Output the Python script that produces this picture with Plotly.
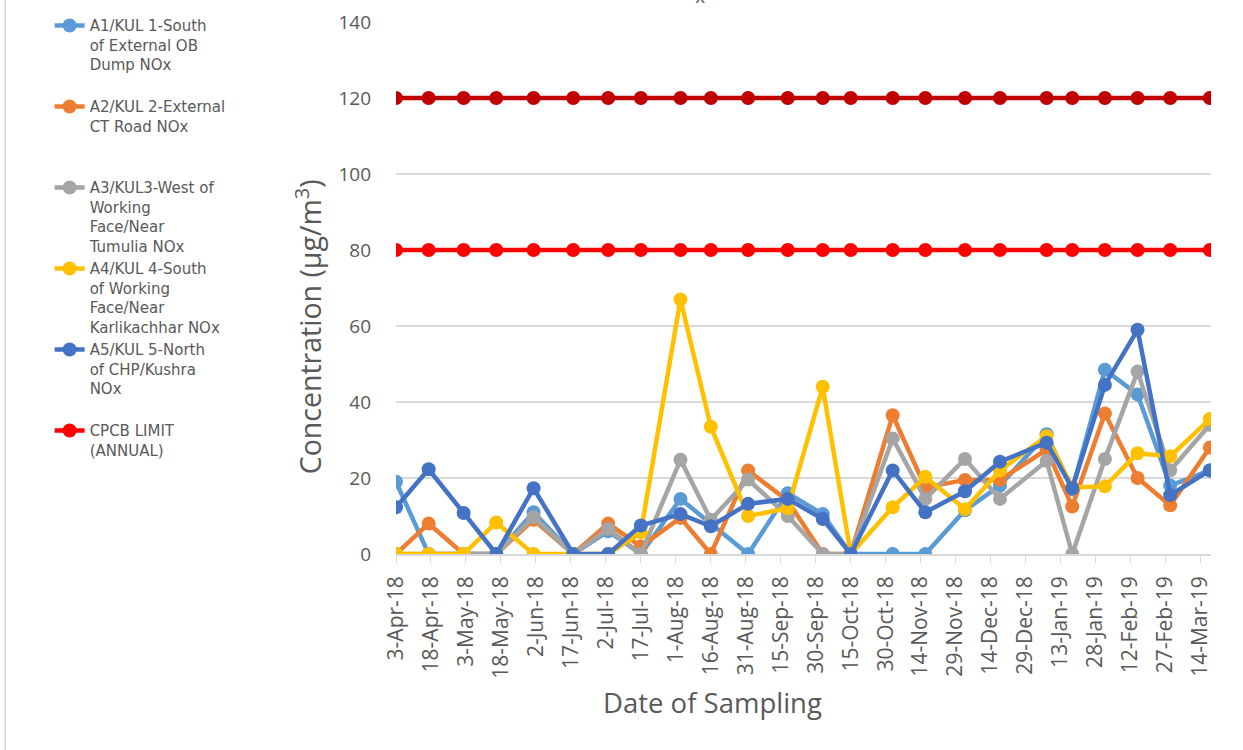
import plotly.graph_objects as go

# sampling dates
dates = ["2018-04-03", "2018-04-17", "2018-05-02", "2018-05-16", "2018-06-01", "2018-06-18",
         "2018-07-03", "2018-07-17", "2018-08-03", "2018-08-16", "2018-09-01", "2018-09-18",
         "2018-10-03", "2018-10-15", "2018-11-02", "2018-11-16", "2018-12-03", "2018-12-18",
         "2019-01-07", "2019-01-18", "2019-02-01", "2019-02-15", "2019-03-01", "2019-03-18"]

a1 = [19, 0, 0, 0, 11, 0, 6, 0, 14.5, 8, 0, 16, 10.5, 0, 0, 0, 11.5, 18, 31.5, 17, 48.5, 42, 18, 22]
a2 = [0, 8, 0, 0, 9, 0, 8, 2, 9.5, 0, 22, 14, 0, 0, 36.5, 17.5, 19.5, 19.5, 27.5, 12.5, 37, 20, 12.8, 28]
a3 = [0, 0, 0, 0, 9.7, 0, 6.6, 0, 24.8, 9, 19.6, 10, 0, 0, 30.4, 14.5, 25, 14.5, 24.5, 0, 25, 48, 22, 34]
a4 = [0, 0, 0, 8.3, 0, 0, 0, 5.7, 67, 33.5, 10, 12, 44, 0, 12.3, 20.3, 11.8, 22, 31, 17.5, 17.8, 26.5, 25.7, 35.5]
a5 = [12.3, 22.3, 10.8, 0, 17.3, 0, 0, 7.5, 10.5, 7.3, 13.2, 14.5, 9.2, 0, 22, 11, 16.5, 24.3, 29.3, 17.3, 44.5, 59, 15.5, 22]
limit_annual = [80] * len(dates)
limit_24h = [120] * len(dates)

names = [
    "A1/KUL 1-South<br>of External OB<br>Dump NOx<br> ",
    "A2/KUL 2-External<br>CT Road NOx<br> <br> ",
    "A3/KUL3-West of<br>Working<br>Face/Near<br>Tumulia NOx",
    "A4/KUL 4-South<br>of Working<br>Face/Near<br>Karlikachhar NOx",
    "A5/KUL 5-North<br>of CHP/Kushra<br>NOx<br> ",
    "CPCB LIMIT<br>(ANNUAL)",
]
colors = ["#5B9BD5", "#ED7D31", "#A5A5A5", "#FFC000", "#4472C4", "#FF0000"]
series = [a1, a2, a3, a4, a5, limit_annual]

fig = go.Figure()

# 24 hourly limit line, not listed in the legend
fig.add_trace(go.Scatter(
    x=dates, y=limit_24h, mode="lines+markers",
    line=dict(color="#C00000", width=4.5),
    marker=dict(size=14, color="#C00000"),
    name="CPCB LIMIT (24 HOURLY)", showlegend=False
))

for name, vals, col in zip(names, series, colors):
    fig.add_trace(go.Scatter(
        x=dates, y=vals, mode="lines+markers", name=name,
        line=dict(color=col, width=4.5),
        marker=dict(size=14, color=col)
    ))

grey = "#595959"
fig.update_layout(
    width=1243, height=750,
    paper_bgcolor="white", plot_bgcolor="white",
    margin=dict(l=396, r=32, t=22, b=196, autoexpand=False),
    font=dict(family="Open Sans", color=grey),
    legend=dict(
        x=-0.425, y=1.024, xanchor="left", yanchor="top",
        font=dict(family="DejaVu Sans", size=15, color=grey),
        valign="top", tracegroupgap=0, traceorder="normal", maxheight=740,
    ),
    annotations=[
        dict(text="Date of Sampling", xref="paper", yref="paper", x=0.388, y=-0.28,
             xanchor="center", yanchor="middle", showarrow=False,
             font=dict(family="Open Sans", size=27.5, color=grey)),
        dict(text="Concentration (µg/m<sup>3</sup>)", xref="paper", yref="paper",
             x=-0.108, y=0.428, xanchor="center", yanchor="middle", textangle=-90,
             showarrow=False, font=dict(family="Open Sans", size=28.5, color=grey)),
        dict(text="NO<sub>x</sub>", xref="paper", yref="paper", x=0.381, y=1.021,
             xanchor="right", yanchor="bottom", showarrow=False,
             font=dict(family="Open Sans", size=27, color=grey)),
    ],
    shapes=[
        dict(type="line", xref="paper", yref="paper", x0=-0.4795, x1=-0.4795, y0=-0.5, y1=1.2,
             line=dict(color="#D9D9D9", width=1.5)),
    ],
)

fig.update_xaxes(
    type="date", range=["2018-04-03", "2019-03-18 12:00"],
    tick0="2018-04-03", dtick=15 * 86400000, tickformat="%-d-%b-%y",
    tickangle=-90, ticks="outside", ticklen=7, tickcolor="#D9D9D9",
    showline=True, linecolor="#D9D9D9", linewidth=1.5, showgrid=False,
    ticklabelstandoff=5,
    tickfont=dict(family="Open Sans", size=21, color=grey),
)
fig.update_yaxes(
    range=[0, 140], dtick=20, showgrid=True, gridcolor="#D9D9D9", gridwidth=1.5,
    zeroline=False, showline=False, ticks="", ticklabelstandoff=24,
    tickfont=dict(family="Open Sans", size=19, color=grey),
)

# drop the default page margin so the figure sits at the window's corner
fig.write_html("out.html", config={"displayModeBar": False},
               post_script="document.body.style.margin='0px';")
